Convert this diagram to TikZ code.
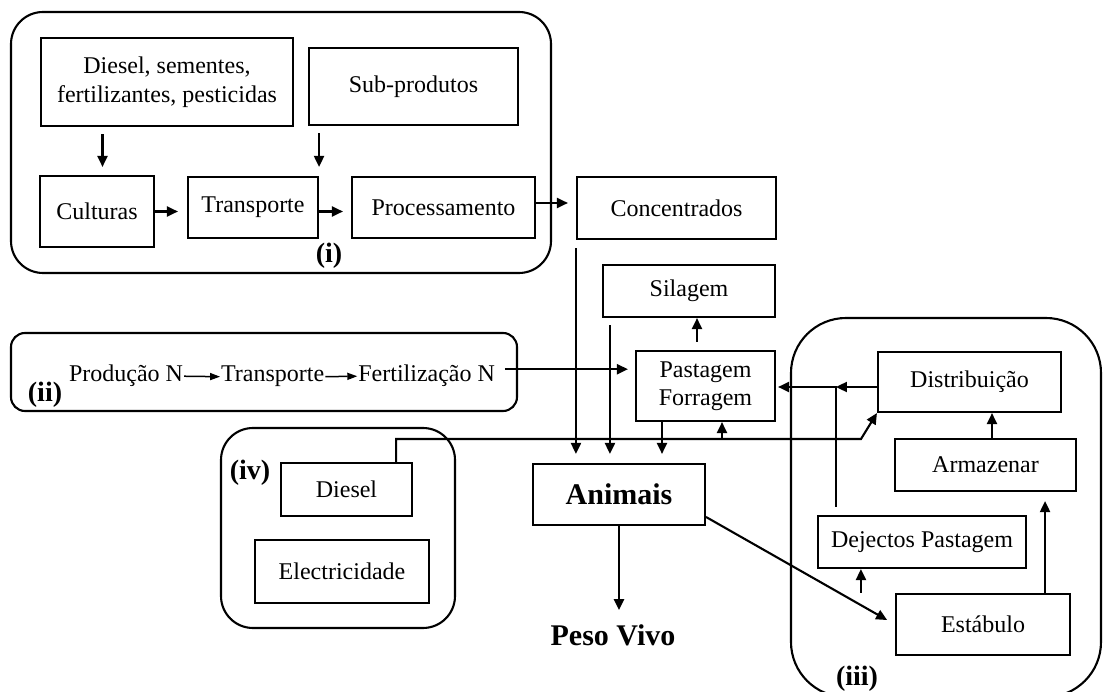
\documentclass[tikz,border=0pt]{standalone}
\usepackage{fontspec}
\setmainfont{Liberation Serif}
\usetikzlibrary{positioning, arrows.meta}

\begin{document}
\begin{tikzpicture}[x=1pt, y=-1pt, line width=2.1pt,
  arrow/.style={-{Triangle[length=11pt,width=10pt]}},
  smallarrow/.style={-{Triangle[length=10pt,width=7pt]}, line width=1.5pt},
  box/.style={draw, rectangle, inner sep=0pt, align=center, font=\fontsize{24}{29}\selectfont},
  roundedrect/.style={draw, rectangle, rounded corners=#1, inner sep=0pt},
  roundedrect/.default=32pt,
  txt/.style={inner sep=0pt, font=\fontsize{24}{29}\selectfont},
  tag/.style={inner sep=0pt, font=\fontsize{28}{32}\selectfont\bfseries}]

    \useasboundingbox (0,0) rectangle (1104,692);

    % groups
    \node[roundedrect, minimum width=540pt, minimum height=261pt] (grpi) at (281,142.5) {};
    \node[roundedrect=14pt, minimum width=506pt, minimum height=78pt] (grpii) at (264,372) {};
    \node[roundedrect, minimum width=234pt, minimum height=200pt] (grpiv) at (338,528) {};
    \node[roundedrect=55pt, minimum width=310pt, minimum height=379pt] (grpiii) at (946,507.5) {};

    \node[tag] (tagi) at (329,256) {(i)};
    \node[tag] (tagii) at (45,395) {(ii)};
    \node[tag] (tagiv) at (250,473) {(iv)};
    \node[tag] (tagiii) at (857,679) {(iii)};

    % boxes
    \node[box, minimum width=252pt, minimum height=88pt] (diesel) at (167,82) {Diesel, sementes,\\fertilizantes, pesticidas};
    \node[box, minimum width=209pt, minimum height=77pt] (subprod) at (413.5,86.5) {Sub-produtos};
    \node[box, minimum width=114pt, minimum height=71pt] (culturas) at (97,211.5) {Culturas};
    \node[box, minimum width=130pt, minimum height=61pt] (transp) at (253,207.5) {Transporte};
    \node[box, minimum width=183pt, minimum height=61pt] (process) at (443.5,207.5) {Processamento};
    \node[box, minimum width=199pt, minimum height=62pt] (concent) at (676.5,208) {Concentrados};
    \node[box, minimum width=172pt, minimum height=52pt] (silagem) at (689,291) {Silagem};
    \node[box, minimum width=139pt, minimum height=70pt, font=\fontsize{24}{28}\selectfont] (pastagem) at (705.5,386) {Pastagem\\Forragem};
    \node[box, minimum width=172pt, minimum height=61pt, font=\fontsize{30}{34}\selectfont\bfseries] (animais) at (619,494.5) {Animais};
    \node[box, minimum width=183pt, minimum height=60pt] (distrib) at (969.5,382) {Distribuição};
    \node[box, minimum width=181pt, minimum height=52pt] (armazen) at (985.5,465) {Armazenar};
    \node[box, minimum width=208pt, minimum height=52pt] (dejectos) at (922,542) {Dejectos Pastagem};
    \node[box, minimum width=174pt, minimum height=61pt] (estabulo) at (983,624.5) {Estábulo};
    \node[box, minimum width=131pt, minimum height=53pt] (dieseliv) at (346.5,489.5) {Diesel};
    \node[box, minimum width=174pt, minimum height=63pt] (electr) at (342,571.5) {Electricidade};
    \node[tag, font=\fontsize{30}{34}\selectfont\bfseries, anchor=base] (peso) at (613,645) {Peso Vivo};

    % (ii) chain
    \node[txt, anchor=base west] (prodn) at (68,382) {Produção N};
    \node[txt, base right=36pt of prodn] (transpii) {Transporte};
    \node[txt, base right=32pt of transpii] (fertn) {Fertilização N};
    \draw[smallarrow] (prodn.east) -- (transpii.west);
    \draw[smallarrow] (transpii.east) -- (fertn.west);

    % connector feet
    \coordinate (c1) at ([xshift=5.5pt]culturas.north);
    \coordinate (c2) at ([yshift=4.5pt]process.east);
    \coordinate (c3) at ([xshift=8pt]silagem.south west);
    \coordinate (c4) at ([xshift=-43.5pt]pastagem.south);
    \coordinate (c5) at ([xshift=-8.5pt]pastagem.north);
    \coordinate (c6) at ([yshift=-22.5pt]animais.east);
    \coordinate (c7) at ([yshift=-5pt]distrib.west);
    \coordinate (c8) at ([xshift=19pt]dejectos.north west);
    \coordinate (jn) at (c8 |- c7);
    \coordinate (c9) at ([xshift=6.5pt]armazen.north);
    \coordinate (c10) at ([xshift=-26pt]estabulo.north east);
    \coordinate (c11) at ([xshift=44pt]dejectos.south west);
    \coordinate (c12) at ([xshift=-17pt]dieseliv.north east);
    \coordinate (c13) at ([xshift=-16pt,yshift=-26pt]distrib.south west);
    \coordinate (c14) at ([xshift=16.5pt]pastagem.south);
    \coordinate (fn) at ([xshift=9pt,yshift=7pt]fertn.east);

    % (i)
    \draw[arrow, shorten <=7pt, shorten >=8pt] (c1 |- diesel.south) -- (c1);
    \draw[arrow, shorten <=7pt, shorten >=9pt] (subprod.south -| transp.north east) -- (transp.north east);
    \draw[arrow, shorten >=9pt] (culturas.east) -- (culturas.east -| transp.west);
    \draw[arrow, shorten >=8pt] (transp.east |- culturas.east) -- (process.west |- culturas.east);
    \draw[arrow, shorten >=8pt] (c2) -- (c2 -| concent.west);

    % feed
    \draw[arrow, shorten <=8pt, shorten >=9pt] (concent.south west) -- (concent.south west |- animais.north);
    \draw[arrow, shorten <=7pt, shorten >=9pt] (c3) -- (c3 |- animais.north);
    \draw[arrow, shorten >=9pt] (c4) -- (c4 |- animais.north);
    \draw[arrow, shorten <=8pt] (c5) -- (c5 |- silagem.south);
    \draw[arrow, shorten >=7pt] (fn) -- (fn -| pastagem.west);
    \draw[arrow, shorten >=13pt] (animais.south) -- (animais.south |- peso.north);
    \draw[arrow, shorten >=9pt] (c6) -- (estabulo.west);

    % (iii)
    \draw[arrow] (c7) -- (jn);
    \draw[arrow, shorten <=8pt, shorten >=2pt] (c8) -- (jn) -- (jn -| pastagem.east);
    \draw[arrow] (c9) -- (c9 |- distrib.south);
    \draw[arrow, shorten >=9pt] (c10) -- (c10 |- armazen.south);
    \draw[arrow] (c11 |- estabulo.north) -- (c11);

    % (iv)
    \draw[arrow] (c12) |- (c13) -- (distrib.south west);
    \draw[arrow] (c14 |- c13) -- (c14);

\end{tikzpicture}
\end{document}
